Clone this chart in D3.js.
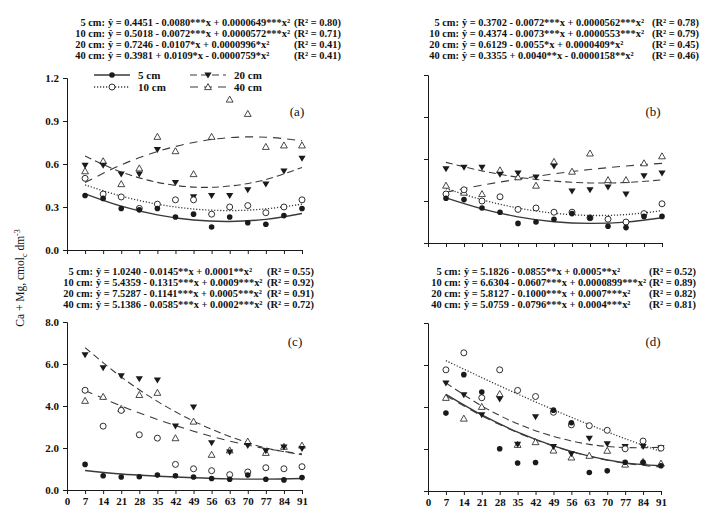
<!DOCTYPE html>
<html>
<head>
<meta charset="utf-8">
<script src="https://cdn.jsdelivr.net/npm/d3@7"></script>
<style>
  body { margin: 0; background: #fff; }
  svg { display: block; }
  text { font-family: "Liberation Serif", "Times New Roman", serif; fill: #111; }
</style>
</head>
<body>
<div id="chart"></div>
<script>
// Data
//////////////////////////////////////////////////////////////////////
const days = [7, 14, 21, 28, 35, 42, 49, 56, 63, 70, 77, 84, 91];
const fitDays = [7, 21, 35, 49, 63, 77, 91];
const depths = ["5 cm", "10 cm", "20 cm", "40 cm"];
const xTicks = [0, 7, 14, 21, 28, 35, 42, 49, 56, 63, 70, 77, 84, 91];

// observed values (a)
const a5  = [0.38, 0.36, 0.29, 0.28, 0.29, 0.23, 0.25, 0.16, 0.23, 0.19, 0.18, 0.24, 0.29];
const a10 = [0.50, 0.39, 0.37, 0.29, 0.32, 0.35, 0.35, 0.25, 0.30, 0.31, 0.26, 0.30, 0.35];
const a20 = [0.59, 0.59, 0.53, 0.53, 0.70, 0.47, 0.37, 0.38, 0.38, 0.42, 0.46, 0.55, 0.64];
const a40 = [0.55, 0.62, 0.46, 0.57, 0.79, 0.69, 0.53, 0.79, 1.05, 0.95, 0.72, 0.73, 0.73];
// observed values (b)
const b5  = [0.32, 0.31, 0.25, 0.22, 0.14, 0.15, 0.17, 0.21, 0.18, 0.12, 0.11, 0.19, 0.19];
const b10 = [0.35, 0.38, 0.30, 0.33, 0.24, 0.25, 0.22, 0.22, 0.18, 0.17, 0.15, 0.21, 0.28];
const b20 = [0.53, 0.54, 0.54, 0.49, 0.50, 0.47, 0.55, 0.37, 0.38, 0.40, 0.35, 0.48, 0.50];
const b40 = [0.41, 0.36, 0.35, 0.52, 0.47, 0.41, 0.58, 0.51, 0.64, 0.45, 0.45, 0.57, 0.62];
// observed values (c)
const c5  = [1.22, 0.68, 0.62, 0.63, 0.71, 0.68, 0.62, 0.55, 0.51, 0.71, 0.51, 0.48, 0.59];
const c10 = [4.75, 3.04, 3.79, 2.63, 2.47, 1.22, 1.01, 0.92, 0.73, 0.86, 1.06, 1.01, 1.11];
const c20 = [6.43, 5.82, 5.44, 5.29, 5.23, 3.04, 3.95, 2.25, 1.81, 2.11, 1.87, 2.04, 1.97];
const c40 = [4.25, 4.44, 3.87, 4.53, 4.63, 2.47, 3.26, 1.68, 1.89, 2.31, 1.77, 2.06, 2.12];
// observed values (d)
const d5  = [3.71, 5.54, 4.71, 2.01, 1.33, 1.36, 3.85, 3.25, 0.88, 0.96, 1.37, 1.37, 1.20];
const d10 = [5.77, 6.58, 4.44, 5.77, 4.79, 4.50, 3.75, 3.15, 3.11, 2.89, 2.01, 2.38, 2.04];
const d20 = [5.14, 4.58, 3.63, 4.38, 2.22, 3.53, 2.11, 1.77, 2.51, 2.25, 2.12, 2.11, 2.06];
const d40 = [4.44, 3.45, 4.01, 4.62, 2.20, 2.33, 1.93, 1.60, 1.68, 1.92, 1.26, 1.39, 1.31];

// fitted curves read at fitDays (null = not drawn)
const fitA5  = [0.392, 0.306, 0.245, 0.209, 0.199, 0.214, 0.255];
const fitA10 = [0.454, 0.376, 0.320, 0.286, 0.275, 0.287, 0.320];
const fitA20 = [0.655, 0.544, 0.472, 0.439, 0.446, 0.491, 0.576];
const fitA40 = [0.471, 0.594, 0.687, 0.750, 0.784, 0.787, 0.762];
const fitB5  = [0.322, 0.244, 0.187, 0.152, 0.140, 0.149, 0.180];
const fitB10 = [0.389, 0.309, 0.250, 0.213, 0.197, 0.203, 0.231];
const fitB20 = [0.576, 0.515, 0.470, 0.442, 0.429, 0.432, 0.451];
const fitB40 = [0.363, 0.413, 0.456, 0.494, 0.525, 0.550, 0.569];
const fitC5  = [0.93, 0.76, 0.66, 0.58, 0.53, 0.52, 0.55];
const fitC10 = null;
const fitC20 = [6.78, 5.38, 4.22, 3.28, 2.55, 2.00, 1.68];
const fitC40 = [4.74, 4.00, 3.36, 2.80, 2.33, 1.97, 1.72];
const fitD5  = [4.60, 3.62, 2.80, 2.15, 1.66, 1.34, 1.20];
const fitD10 = [6.21, 5.40, 4.62, 3.87, 3.16, 2.49, 1.88];
const fitD20 = [5.15, 4.05, 3.20, 2.60, 2.22, 2.07, 2.08];
const fitD40 = [4.54, 3.58, 2.78, 2.14, 1.65, 1.32, 1.14];

// regression equations
const eqA = ["ŷ = 0.4451 - 0.0080***x + 0.0000649***x²",
             "ŷ = 0.5018 - 0.0072***x + 0.0000572***x²",
             "ŷ =  0.7246 - 0.0107*x + 0.0000996*x²",
             "ŷ = 0.3981 + 0.0109*x - 0.0000759*x²"];
const r2A = ["(R² = 0.80)", "(R² = 0.71)", "(R² = 0.41)", "(R² = 0.41)"];
const eqB = ["ŷ =  0.3702 - 0.0072***x + 0.0000562***x²",
             "ŷ =  0.4374 - 0.0073***x + 0.0000553***x²",
             "ŷ = 0.6129 - 0.0055*x + 0.0000409*x²",
             "ŷ = 0.3355 + 0.0040**x - 0.0000158**x²"];
const r2B = ["(R² = 0.78)", "(R² = 0.79)", "(R² = 0.45)", "(R² = 0.46)"];
const eqC = ["ŷ = 1.0240 - 0.0145**x + 0.0001**x²",
             "ŷ = 5.4359 - 0.1315***x + 0.0009***x²",
             "ŷ =  7.5287 - 0.1141***x + 0.0005***x²",
             "ŷ =  5.1386 - 0.0585***x + 0.0002***x²"];
const r2C = ["(R² = 0.55)", "(R² = 0.92)", "(R² = 0.91)", "(R² = 0.72)"];
const eqD = ["ŷ = 5.1826 - 0.0855**x + 0.0005**x²",
             "ŷ = 6.6304 - 0.0607***x + 0.0000899***x²",
             "ŷ = 5.8127 - 0.1000***x + 0.0007***x²",
             "ŷ = 5.0759 - 0.0796***x + 0.0004***x²"];
const r2D = ["(R² = 0.52)", "(R² = 0.89)", "(R² = 0.82)", "(R² = 0.81)"];

// Layout
//////////////////////////////////////////////////////////////////////
const width = 703, height = 515;
const ink = "#1a1a1a";
const lineInk = "#3a3a3a";
const dashes = [null, "1.2,1.8", "7,4", "8,6"];

const panels = [
  { tag: "(a)", x: [67, 302], y: [250, 78], max: 1.2, step: 0.3, yLab: true, xLab: false,
    obs: [a5, a10, a20, a40], fit: [fitA5, fitA10, fitA20, fitA40],
    eq: eqA, r2: r2A, colon: 105, rx: 294, base: 26, tagX: 297, tagY: 116 },
  { tag: "(b)", x: [428, 662], y: [243, 75], max: 1.2, step: 0.3, yLab: false, xLab: false,
    obs: [b5, b10, b20, b40], fit: [fitB5, fitB10, fitB20, fitB40],
    eq: eqB, r2: r2B, colon: 459, rx: 652, base: 26, tagX: 653, tagY: 116 },
  { tag: "(c)", x: [67, 302], y: [490, 322], max: 8, step: 2, yLab: true, xLab: true,
    obs: [c5, c10, c20, c40], fit: [fitC5, fitC10, fitC20, fitC40],
    eq: eqC, r2: r2C, colon: 93, rx: 267, base: 275, tagX: 295, tagY: 346 },
  { tag: "(d)", x: [428, 661], y: [491, 323], max: 8, step: 2, yLab: false, xLab: true,
    obs: [d5, d10, d20, d40], fit: [fitD5, fitD10, fitD20, fitD40],
    eq: eqD, r2: r2D, colon: 461, rx: 649, base: 275, tagX: 653, tagY: 346 }
];

const svg = d3.select("#chart").append("svg")
  .attr("width", width)
  .attr("height", height);

// marker drawing
//////////////////////////////////////////////////////////////////////
function marker(g, k, cx, cy) {
  if (k === 0) {
    g.append("circle").attr("cx", cx).attr("cy", cy).attr("r", 2.8).attr("fill", ink);
  } else if (k === 1) {
    g.append("circle").attr("cx", cx).attr("cy", cy).attr("r", 3)
      .attr("fill", "#fff").attr("stroke", ink).attr("stroke-width", 0.9);
  } else if (k === 2) {
    g.append("path").attr("d", `M${cx - 3.6},${cy - 2.6}L${cx + 3.6},${cy - 2.6}L${cx},${cy + 3.4}Z`)
      .attr("fill", ink);
  } else {
    g.append("path").attr("d", `M${cx - 3.4},${cy + 2.6}L${cx + 3.4},${cy + 2.6}L${cx},${cy - 3.4}Z`)
      .attr("fill", "#fff").attr("stroke", ink).attr("stroke-width", 0.8);
  }
}

// Panels
//////////////////////////////////////////////////////////////////////
panels.forEach(p => {
  const x = d3.scaleLinear().domain([0, 91]).range(p.x);
  const y = d3.scaleLinear().domain([0, p.max]).range(p.y);
  const g = svg.append("g");

  // axes
  const yAxis = d3.axisLeft(y)
    .tickValues(d3.range(0, p.max + p.step / 2, p.step))
    .tickSize(4).tickPadding(4)
    .tickFormat(p.yLab ? d3.format(".1f") : "");
  g.append("g").attr("transform", `translate(${p.x[0]},0)`).call(yAxis)
    .call(a => a.select(".domain").attr("stroke", ink))
    .call(a => a.selectAll("line").attr("stroke", ink))
    .call(a => a.selectAll("text").attr("font-size", 11).attr("font-weight", "bold")
      .attr("font-family", "Liberation Serif").attr("fill", ink));

  const xAxis = d3.axisBottom(x)
    .tickValues(xTicks)
    .tickSize(4).tickPadding(3).tickSizeOuter(0)
    .tickFormat(p.xLab ? d3.format("d") : "");
  g.append("g").attr("transform", `translate(0,${p.y[0]})`).call(xAxis)
    .call(a => a.select(".domain").attr("stroke", ink))
    .call(a => a.selectAll("line").attr("stroke", ink))
    .call(a => a.selectAll("text").attr("font-size", 11).attr("font-weight", "bold")
      .attr("font-family", "Liberation Serif").attr("fill", ink));

  // fitted curves
  const line = d3.line()
    .x((d, i) => x(fitDays[i]))
    .y(d => y(d))
    .curve(d3.curveCatmullRom);
  p.fit.forEach((f, k) => {
    if (!f) return;
    g.append("path")
      .attr("d", line(f))
      .attr("fill", "none")
      .attr("stroke", lineInk)
      .attr("stroke-width", k === 0 ? 1.4 : (k === 1 ? 1.3 : 1.1))
      .attr("stroke-dasharray", dashes[k]);
  });

  // observations (draw 40 cm first so dots stay on top)
  [3, 2, 1, 0].forEach(k => {
    p.obs[k].forEach((v, i) => marker(g, k, x(days[i]), y(v)));
  });

  // panel tag
  g.append("text")
    .attr("x", p.tagX).attr("y", p.tagY)
    .attr("text-anchor", "middle")
    .attr("font-size", 13)
    .text(p.tag);

  // equations
  const eqG = g.append("g").attr("font-size", 10.4).attr("font-weight", "bold");
  depths.forEach((d, k) => {
    const by = p.base + k * 11.1;
    eqG.append("text").attr("x", p.colon).attr("y", by).attr("text-anchor", "end").text(d + ":");
    eqG.append("text").attr("x", p.colon + 3).attr("y", by).text(p.eq[k]);
    eqG.append("text").attr("x", p.rx).attr("y", by).text(p.r2[k]);
  });
});

// Legend (panel a)
//////////////////////////////////////////////////////////////////////
const legend = svg.append("g").attr("font-size", 11).attr("font-weight", "bold");
const legX = [94, 190];
const legY = [75, 87];
depths.forEach((d, k) => {
  const lx = legX[k >> 1];
  const ly = legY[k % 2];
  legend.append("line")
    .attr("x1", lx).attr("x2", lx + 36)
    .attr("y1", ly).attr("y2", ly)
    .attr("stroke", lineInk)
    .attr("stroke-width", k === 0 ? 1.4 : (k === 1 ? 1.3 : 1.1))
    .attr("stroke-dasharray", dashes[k]);
  marker(legend, k, lx + 18, ly);
  legend.append("text")
    .attr("x", lx + 44).attr("y", ly + 3.5)
    .text(d);
});

// Y title
//////////////////////////////////////////////////////////////////////
const yt = svg.append("text")
  .attr("transform", "translate(24,278) rotate(-90)")
  .attr("text-anchor", "middle")
  .attr("font-size", 11.5);
yt.append("tspan").text("Ca + Mg, cmol");
yt.append("tspan").attr("font-size", 8).attr("dy", 3).text("c");
yt.append("tspan").attr("dy", -3).text(" dm");
yt.append("tspan").attr("font-size", 8).attr("dy", -4).text("-3");
</script>
</body>
</html>
